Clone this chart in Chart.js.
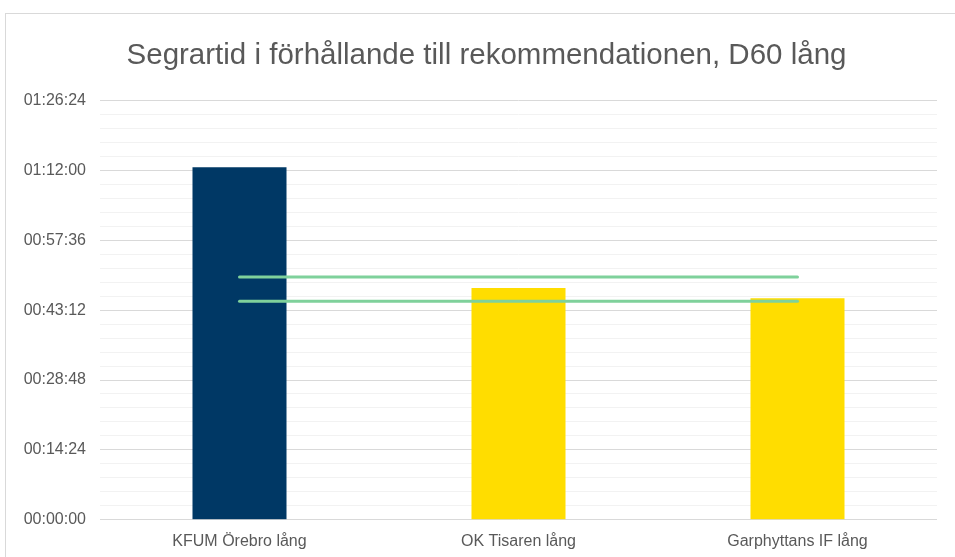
<!DOCTYPE html>
<html>
<head>
<meta charset="utf-8">
<script src="https://cdn.jsdelivr.net/npm/chart.js@4/dist/chart.umd.min.js"></script>
<style>
  html, body { margin: 0; padding: 0; background: #fff; }
  #wrap { width: 955px; height: 557px; }
</style>
</head>
<body>
<div id="wrap"><canvas id="myChart"></canvas></div>
<script>
// kategorier och segrartider (sekunder)
const banor = ['KFUM Örebro lång', 'OK Tisaren lång', 'Garphyttans IF lång'];
const segrartid = [4357, 2864, 2740];
const stapelFarg = ['#003865', '#FFDD00', '#FFDD00'];
// rekommenderad segrartid, 45 - 50 min
const rekMin = [2700, 2700, 2700];
const rekMax = [3000, 3000, 3000];
// axel: 0 - 01:26:24, huvudsteg 14:24
const yMax = 5184;
const huvudSteg = 864;

function tid(s) {
  s = Math.round(s);
  const h = Math.floor(s / 3600);
  const m = Math.floor((s % 3600) / 60);
  const sek = s % 60;
  const p = n => String(n).padStart(2, '0');
  return p(h) + ':' + p(m) + ':' + p(sek);
}

// ram runt diagrammet
const ram = {
  id: 'ram',
  beforeDraw(chart) {
    const c = chart.ctx;
    c.save();
    c.fillStyle = '#fff';
    c.fillRect(0, 0, chart.width, chart.height);
    c.strokeStyle = '#d9d9d9';
    c.lineWidth = 1;
    c.strokeRect(5.5, 13.5, 1000, 1000);
    c.restore();
  }
};

const font = '"Liberation Sans", Arial, sans-serif';

const data = {
  labels: banor,
  datasets: [
    {
      type: 'line',
      label: 'Rek. max',
      data: rekMax,
      borderColor: '#7fd19b',
      borderWidth: 3,
      borderCapStyle: 'round',
      pointRadius: 0,
      fill: false,
      order: 0
    },
    {
      type: 'line',
      label: 'Rek. min',
      data: rekMin,
      borderColor: '#7fd19b',
      borderWidth: 3,
      borderCapStyle: 'round',
      pointRadius: 0,
      fill: false,
      order: 0
    },
    {
      type: 'bar',
      label: 'Segrartid',
      data: segrartid,
      backgroundColor: stapelFarg,
      barPercentage: 0.337,
      categoryPercentage: 1,
      order: 1
    }
  ]
};

const config = {
  type: 'bar',
  data,
  plugins: [ram],
  options: {
    responsive: true,
    maintainAspectRatio: false,
    animation: false,
    layout: { padding: { left: 24, right: 6, top: 38, bottom: -6 } },
    plugins: {
      legend: { display: false },
      tooltip: { enabled: false },
      title: {
        display: true,
        text: 'Segrartid i förhållande till rekommendationen, D60 lång',
        color: '#595959',
        font: { family: font, size: 29.5, weight: 'normal' },
        padding: { top: 0, bottom: 27 }
      }
    },
    scales: {
      x: {
        grid: { display: false, drawTicks: false },
        border: { display: false },
        ticks: {
          color: '#595959',
          font: { family: font, size: 16 },
          padding: 12
        }
      },
      y: {
        min: 0,
        max: yMax,
        afterFit(scale) { scale.width = 76; },
        border: { display: false },
        grid: {
          drawTicks: false,
          lineWidth: 1,
          color: ctx => (Math.round(ctx.tick.value) % huvudSteg === 0 ? '#d9d9d9' : '#f2f2f2')
        },
        ticks: {
          stepSize: huvudSteg / 5,
          autoSkip: false,
          padding: 14,
          color: '#595959',
          font: { family: font, size: 16 },
          callback: v => (Math.round(v) % huvudSteg === 0 ? tid(v) : '')
        }
      },
      // tom axel till höger, bara för att flytta diagramytan
      hoger: {
        position: 'right',
        afterFit(scale) { scale.width = 12; },
        grid: { display: false, drawTicks: false },
        border: { display: false },
        ticks: { display: false }
      }
    }
  }
};

const myChart = new Chart(document.getElementById('myChart'), config);
</script>
</body>
</html>
